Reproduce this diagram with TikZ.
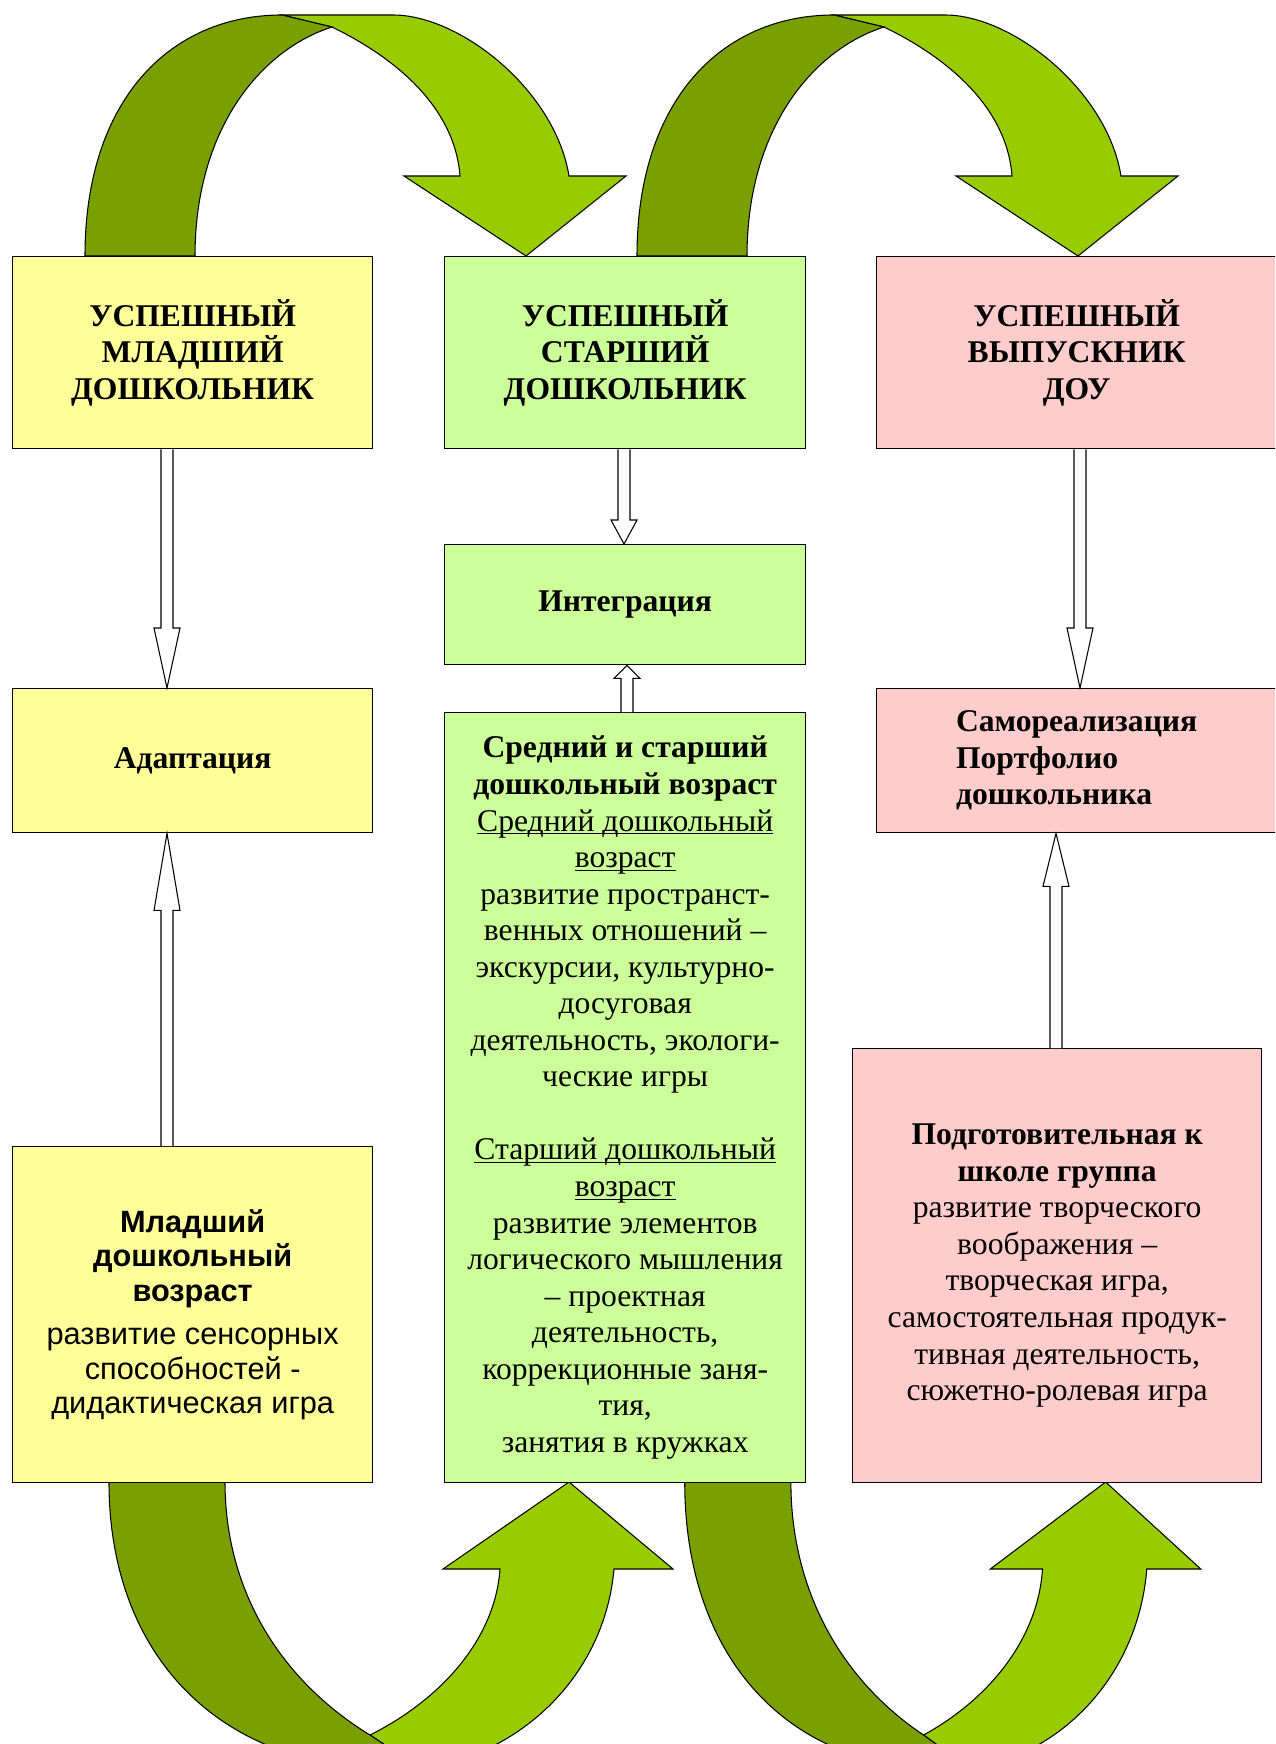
\documentclass[tikz,border=0pt]{standalone}
\usepackage{fontspec}
\setmainfont{Liberation Serif}
\setsansfont{Liberation Sans}
\usetikzlibrary{calc}
\definecolor{boxyellow}{HTML}{FFFF99}
\definecolor{boxgreen}{HTML}{CCFF99}
\definecolor{boxpink}{HTML}{FFCCCC}
\definecolor{arrowlight}{HTML}{99CC00}
\definecolor{arrowdark}{RGB}{122,160,0}
\newcommand\txtsize{\fontsize{18}{20.8}\selectfont}
\newcommand\sanssize{\fontsize{17.5}{19.8}\selectfont}
\newcommand\ulined[1]{\underline{\smash{#1}}}
% white block arrow: from #1 to tip #2 along column #3, signed head length #4
\newcommand\hollowarrow[4]{%
  \draw[fill=white, line width=0.6pt] ($(#1 -| #3)+(-6,0)$) -- ($(#2 -| #3)+(-6,#4)$)
    -- ($(#2 -| #3)+(-13,#4)$) -- (#2 -| #3) -- ($(#2 -| #3)+(13,#4)$)
    -- ($(#2 -| #3)+(6,#4)$) -- ($(#1 -| #3)+(6,0)$);}

\begin{document}
\begin{tikzpicture}[x=0.02cm, y=-0.02cm]
        \tikzset{box/.style={rectangle,
                    draw=black, line width=0.8pt,
                    anchor=north west, inner sep=0pt,
                    align=center, font=\txtsize},
                 front/.style={fill=arrowlight, draw=black, line width=0.6pt},
                 back/.style={fill=arrowdark, draw=black, line width=0.6pt}}
        \useasboundingbox (0,0) rectangle (1275,1744);
        \clip (0,0) rectangle (1275,1744);
        % curved arrows over the top
        \foreach \dx in {0,552}{
          \begin{scope}[shift={(\dx,0)}]
            \path[front] (282,15) -- (393,15) .. controls (460,15) and (555,90) .. (569,176)
              -- (626,176) -- (526,256) -- (404,176) -- (460,176)
              .. controls (455,110) and (400,60) .. (332,27) -- cycle;
            \path[back] (85,256) .. controls (85,100) and (170,15) .. (282,15) -- (332,27)
              .. controls (260,50) and (195,130) .. (195,256) -- cycle;
          \end{scope}}
        % curved arrows under the bottom
        \foreach \dx/\sx in {0/1,585/0.915}{
          \begin{scope}[shift={(\dx,0)}, xscale=\sx]
            \path[front] (370,1735) .. controls (440,1700) and (495,1640) .. (500,1569)
              -- (443,1569) -- (569,1482) -- (673,1569) -- (614,1569)
              .. controls (605,1670) and (530,1745) .. (440,1765) -- (400,1755) -- cycle;
            \path[back] (109,1482) .. controls (109,1640) and (200,1745) .. (340,1765)
              -- (400,1755) -- (370,1735) .. controls (280,1680) and (225,1590) .. (225,1482) -- cycle;
          \end{scope}}

        \node[box, fill=boxyellow, minimum width=7.2cm, minimum height=3.84cm, font=\txtsize\bfseries] (b1) at (12,256)
          {УСПЕШНЫЙ\\ МЛАДШИЙ\\ ДОШКОЛЬНИК};
        \node[box, fill=boxgreen, minimum width=7.22cm, minimum height=3.84cm, font=\txtsize\bfseries] (b2) at (444,256)
          {УСПЕШНЫЙ\\ СТАРШИЙ\\ ДОШКОЛЬНИК};
        \node[box, fill=boxpink, minimum width=8cm, minimum height=3.84cm, font=\txtsize\bfseries] (b3) at (876,256)
          {УСПЕШНЫЙ\\ ВЫПУСКНИК\\ ДОУ};
        \node[box, fill=boxgreen, minimum width=7.22cm, minimum height=2.4cm, font=\txtsize\bfseries] (int) at (444,544)
          {Интеграция};
        \node[box, fill=boxyellow, minimum width=7.2cm, minimum height=2.88cm, font=\txtsize\bfseries] (ad) at (12,688)
          {Адаптация};
        \node[box, fill=boxpink, minimum width=8cm, minimum height=2.88cm, align=left, font=\txtsize\bfseries] (sam) at (876,688)
          {Самореализация\\ Портфолио\\ дошкольника};
        \node[box, fill=boxgreen, minimum width=7.22cm, minimum height=15.4cm] (mid) at (444,712)
          {\textbf{Средний и старший}\\ \textbf{дошкольный возраст}\\ \ulined{Средний дошкольный}\\
           \ulined{возраст}\\ развитие пространст-\\ венных отношений –\\ экскурсии, культурно-\\
           досуговая\\ деятельность, экологи-\\ ческие игры\\[20.8pt] \ulined{Старший дошкольный}\\
           \ulined{возраст}\\ развитие элементов\\ логического мышления\\ – проектная\\ деятельность,\\
           коррекционные заня-\\ тия,\\ занятия в кружках};
        \node[box, fill=boxyellow, minimum width=7.2cm, minimum height=6.72cm, font=\sffamily\sanssize] (ml) at (12,1146)
          {\textbf{Младший}\\ \textbf{дошкольный}\\ \textbf{возраст}\\[4.5pt] развитие сенсорных\\
           способностей -\\ дидактическая игра};
        \node[box, fill=boxpink, minimum width=8.18cm, minimum height=8.68cm] (pod) at (852,1048)
          {\textbf{Подготовительная к}\\ \textbf{школе группа}\\ развитие творческого\\ воображения –\\
           творческая игра,\\ самостоятельная продук-\\ тивная деятельность,\\ сюжетно-ролевая игра};

        \coordinate (cA) at (167,0);
        \coordinate (cB) at (624,0);
        \coordinate (cB2) at (627,0);
        \coordinate (cC) at (1080,0);
        \coordinate (cD) at (1056,0);
        \hollowarrow{b1.south}{ad.north}{cA}{-60}
        \hollowarrow{b2.south}{int.north}{cB}{-24}
        \hollowarrow{b3.south}{sam.north}{cC}{-60}
        \hollowarrow{mid.north}{int.south}{cB2}{13}
        \hollowarrow{ml.north}{ad.south}{cA}{77}
        \hollowarrow{pod.north}{sam.south}{cD}{53}
    \end{tikzpicture}
\end{document}
